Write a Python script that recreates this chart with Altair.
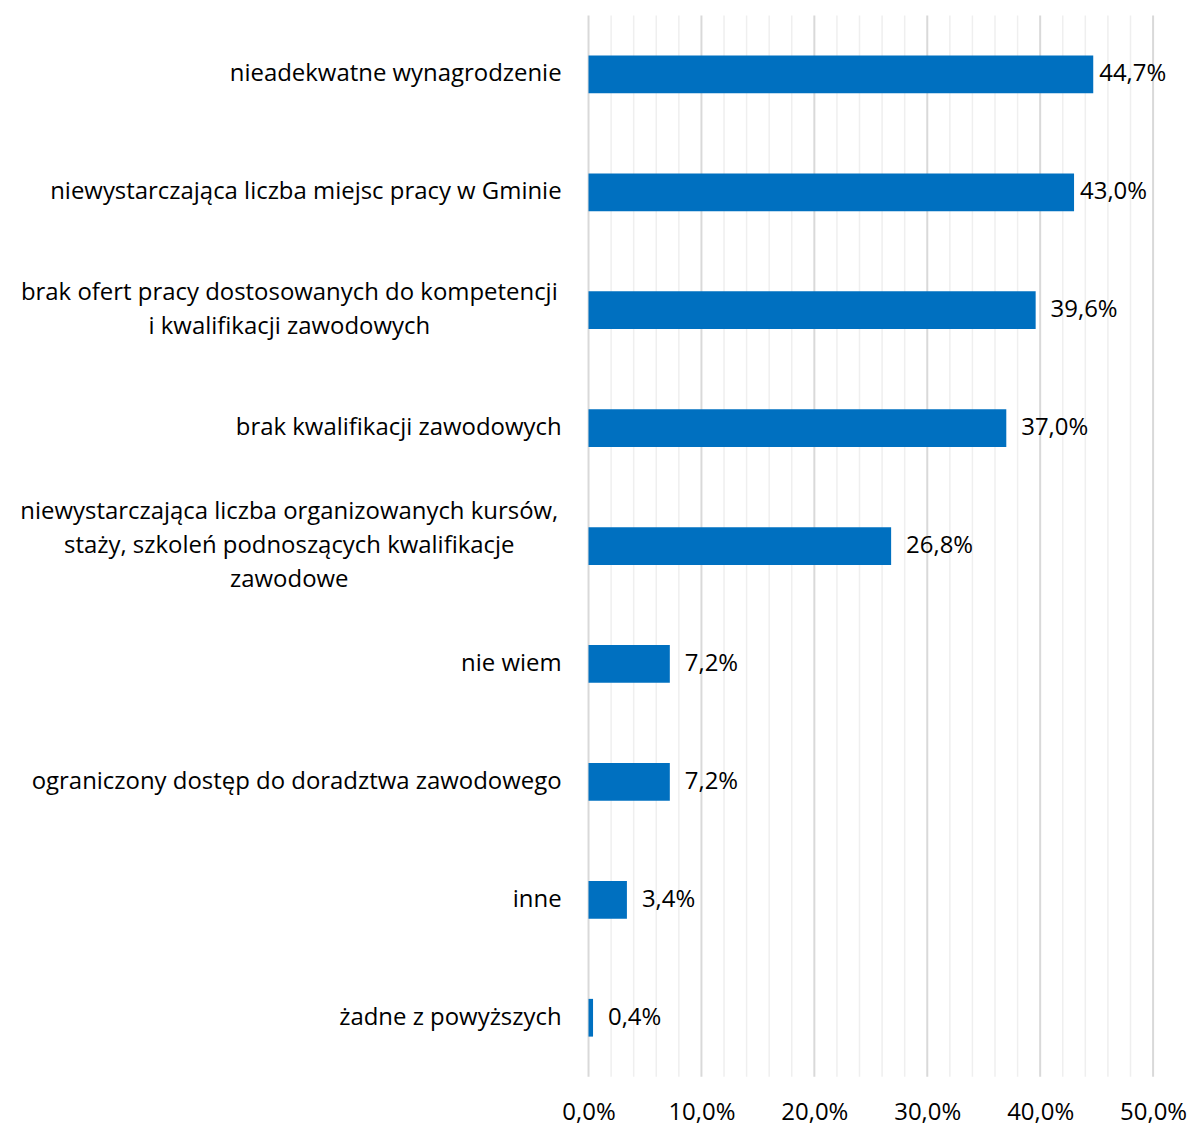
import altair as alt
import pandas as pd

categories = [
    "nieadekwatne wynagrodzenie",
    "niewystarczająca liczba miejsc pracy w Gminie",
    "brak ofert pracy dostosowanych do kompetencji\ni kwalifikacji zawodowych",
    "brak kwalifikacji zawodowych",
    "niewystarczająca liczba organizowanych kursów,\nstaży, szkoleń podnoszących kwalifikacje\nzawodowe",
    "nie wiem",
    "ograniczony dostęp do doradztwa zawodowego",
    "inne",
    "żadne z powyższych",
]
values = [44.7, 43.0, 39.6, 37.0, 26.8, 7.2, 7.2, 3.4, 0.4]
grid_values = list(range(0, 52, 2))
tick_values = [0, 10, 20, 30, 40, 50]

df = pd.DataFrame({"cat": categories, "val": values})
df["lbl"] = [f"{v:.1f}".replace(".", ",") + "%" for v in values]
df["nlines"] = [c.count("\n") + 1 for c in categories]

gdf = pd.DataFrame({"val": grid_values})
gdf["major"] = [v % 10 == 0 for v in grid_values]

FONT = "Open Sans"
FS = 24
LH = 34

y = alt.Y("cat:N", sort=None, axis=None,
          scale=alt.Scale(paddingInner=0.68, paddingOuter=0.34))
xs = alt.Scale(domain=[0, 50], nice=False)
ax = alt.Axis(
    values=tick_values, title=None, domain=False, ticks=False, grid=False,
    labelOverlap=False, labelFlush=False,
    labelExpr="replace(format(datum.value, '.1f'), '.', ',') + '%'",
    labelFont=FONT, labelFontSize=FS, labelColor="#000000",
    labelPadding=24,
)
x = alt.X("val:Q", scale=xs, axis=ax)

grid = alt.Chart(gdf).mark_rule().encode(
    x=x,
    color=alt.condition("datum.major", alt.value("#d9d9d9"), alt.value("#efefef")),
    strokeWidth=alt.condition("datum.major", alt.value(2), alt.value(1.5)),
)

base = alt.Chart(df)

bars = base.mark_bar(color="#0070C0").encode(x=x, y=y)

vals_near = base.transform_filter("datum.val > 42").mark_text(
    align="left", baseline="middle", dx=6,
    font=FONT, fontSize=FS, color="#000000").encode(x=x, y=y, text="lbl:N")

vals = base.transform_filter("datum.val <= 42").mark_text(
    align="left", baseline="middle", dx=15,
    font=FONT, fontSize=FS, color="#000000").encode(x=x, y=y, text="lbl:N")

single = base.transform_filter("datum.nlines == 1").mark_text(
    align="right", baseline="middle", font=FONT, fontSize=FS, color="#000000"
).encode(x=alt.value(-27), y=y, text="cat:N")

two = base.transform_filter("datum.nlines == 2").mark_text(
    align="center", baseline="middle", font=FONT, fontSize=FS, color="#000000",
    lineBreak="\n", lineHeight=LH, dy=-LH / 2).encode(x=alt.value(-300), y=y, text="cat:N")

three = base.transform_filter("datum.nlines == 3").mark_text(
    align="center", baseline="middle", font=FONT, fontSize=FS, color="#000000",
    lineBreak="\n", lineHeight=LH, dy=-LH).encode(x=alt.value(-300), y=y, text="cat:N")

chart = alt.layer(grid, bars, vals_near, vals, single, two, three).properties(
    width=566, height=1064,
    padding={"left": 12, "top": 5, "right": 0, "bottom": 0},
).configure(background="#ffffff").configure_view(strokeWidth=0)

chart.save("out.html", embed_options={"renderer": "svg", "actions": False})
